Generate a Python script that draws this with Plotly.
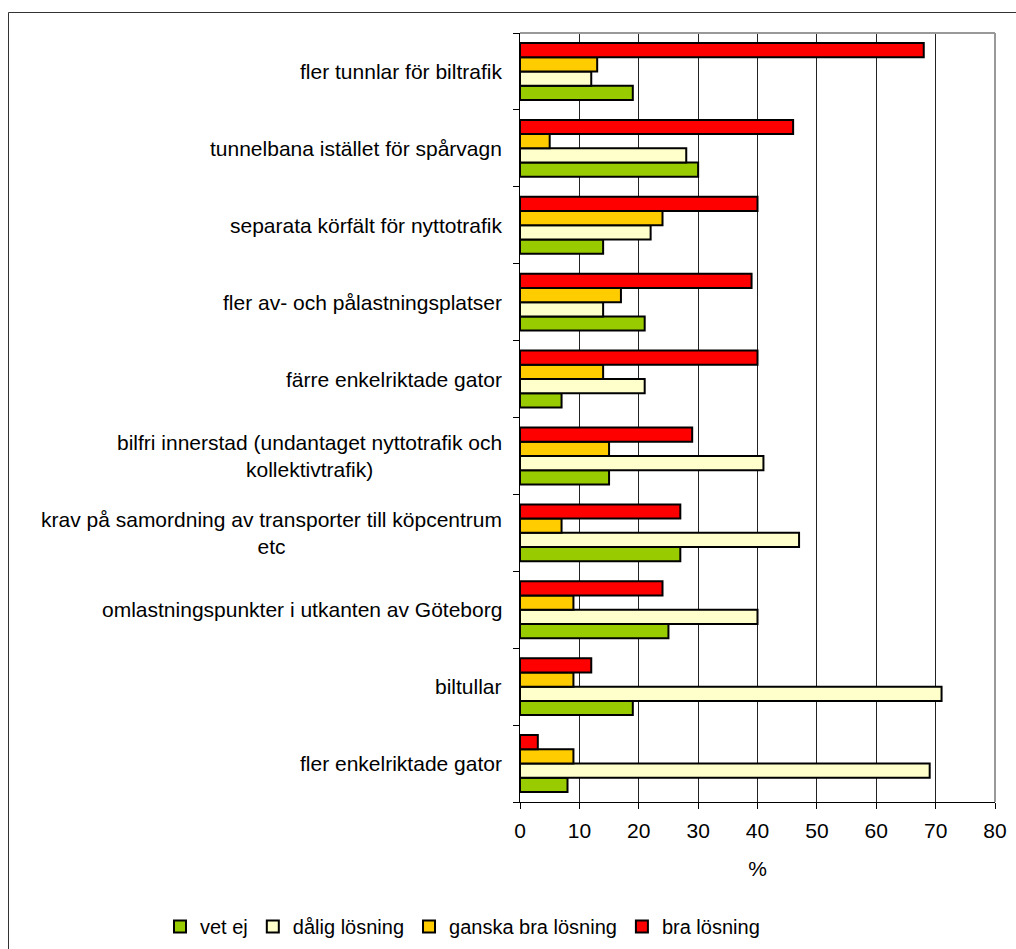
import plotly.graph_objects as go

categories = [
    "fler tunnlar för biltrafik",
    "tunnelbana istället för spårvagn",
    "separata körfält för nyttotrafik",
    "fler av- och pålastningsplatser",
    "färre enkelriktade gator",
    "bilfri innerstad (undantaget nyttotrafik och<br>kollektivtrafik)",
    "krav på samordning av transporter till köpcentrum<br>etc",
    "omlastningspunkter i utkanten av Göteborg",
    "biltullar",
    "fler enkelriktade gator",
]
vet_ej = [19, 30, 14, 21, 7, 15, 27, 25, 19, 8]
dalig = [12, 28, 22, 14, 21, 41, 47, 40, 71, 69]
ganska_bra = [13, 5, 24, 17, 14, 15, 7, 9, 9, 9]
bra = [68, 46, 40, 39, 40, 29, 27, 24, 12, 3]

series_names = ["vet ej", "dålig lösning", "ganska bra lösning", "bra lösning"]
series_values = [vet_ej, dalig, ganska_bra, bra]
colors = ["#99CC00", "#FFFFCC", "#FFCC00", "#FF0000"]

x_ticks = [0, 10, 20, 30, 40, 50, 60, 70, 80]

FONT = "Liberation Sans, Arial, sans-serif"

fig = go.Figure()
for name, vals, col in zip(series_names, series_values, colors):
    fig.add_trace(go.Bar(
        y=categories, x=vals, name=name, orientation="h",
        marker=dict(color=col, line=dict(color="#000000", width=2)),
    ))

# plot area geometry (px)
W, H = 1016, 949
L, R, T, B = 520, 21, 33, 147
pw = W - L - R
ph = H - T - B

def px_x(p):
    return (p - L) / pw

def px_y(p):
    return (H - B - p) / ph

shapes = [
    # outer frame
    dict(type="rect", xref="paper", yref="paper",
         x0=px_x(8.5), x1=px_x(1030), y0=px_y(12.5), y1=px_y(965),
         line=dict(color="#333333", width=1), layer="below"),
    # plot area top and right (gray)
    dict(type="line", xref="paper", yref="paper", x0=0, x1=1, y0=1, y1=1,
         line=dict(color="#999999", width=2), layer="above"),
    dict(type="line", xref="paper", yref="paper", x0=1, x1=1, y0=0, y1=1,
         line=dict(color="#999999", width=2), layer="above"),
]

annotations = [
    dict(text=c, x=0, xref="paper", y=c, yref="y", xanchor="right",
         yanchor="middle", align="center", xshift=-16, showarrow=False,
         font=dict(family=FONT, size=21, color="#000000"))
    for c in categories
]

fig.update_layout(
    width=W, height=H,
    margin=dict(l=L, r=R, t=T, b=B, pad=0, autoexpand=False),
    paper_bgcolor="white", plot_bgcolor="white",
    barmode="group", bargap=0.26, bargroupgap=0,
    font=dict(family=FONT, size=21, color="#000000"),
    shapes=shapes, annotations=annotations,
    showlegend=True,
    legend=dict(orientation="h", x=px_x(160), xanchor="left",
                y=px_y(946), yanchor="bottom", traceorder="normal",
                font=dict(family=FONT, size=20, color="#000000"),
                bgcolor="rgba(0,0,0,0)"),
    xaxis=dict(range=[0, 80], tickvals=x_ticks, ticktext=[str(v) for v in x_ticks],
               showgrid=True, gridcolor="#222222", gridwidth=1,
               showline=True, linecolor="#000000", linewidth=1,
               ticks="outside", ticklen=6, tickcolor="#000000", tickwidth=1,
               ticklabelstandoff=4, automargin=False,
               zeroline=False, fixedrange=True,
               title=dict(text="%", standoff=20, font=dict(family=FONT, size=21)),
               tickfont=dict(family=FONT, size=21, color="#000000")),
    yaxis=dict(type="category", categoryorder="array",
               categoryarray=list(reversed(categories)),
               showticklabels=False, showgrid=False,
               showline=True, linecolor="#000000", linewidth=1,
               ticks="outside", ticklen=6, tickcolor="#000000", tickwidth=1,
               tickson="boundaries", zeroline=False, fixedrange=True,
               automargin=False),
)

fig.write_html("out.html", config={"displayModeBar": False},
               post_script="document.body.style.margin='0';document.body.style.overflow='hidden';")
